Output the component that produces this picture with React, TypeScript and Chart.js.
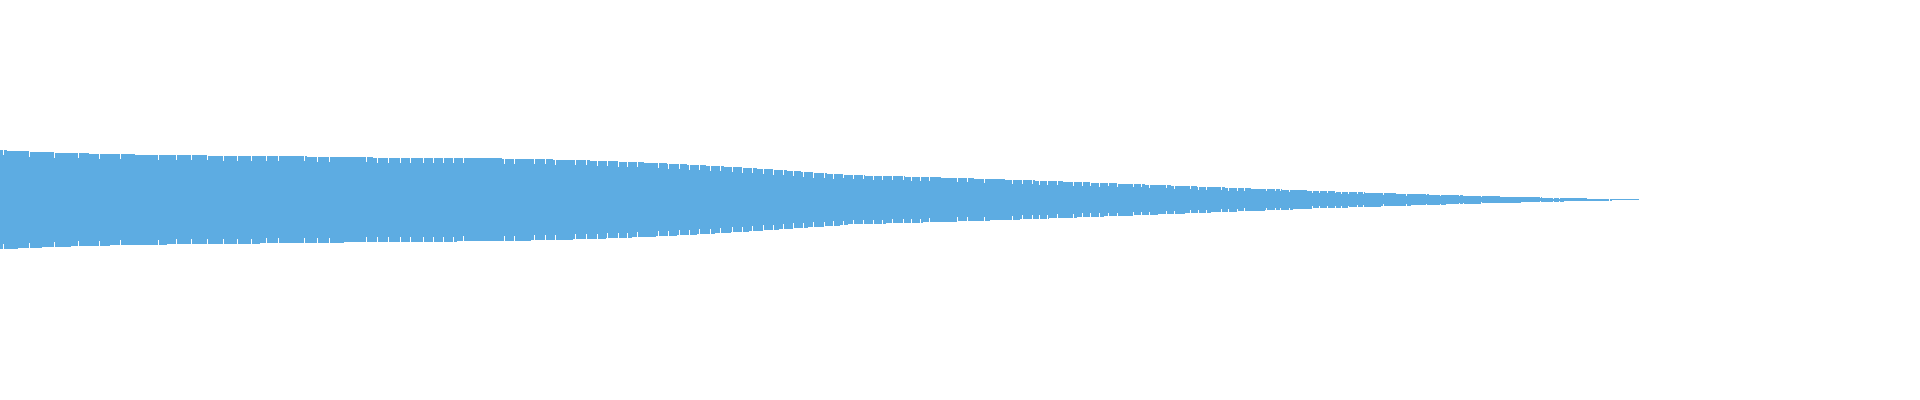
import React, { useEffect, useRef } from "react";
import { Chart, registerables } from "chart.js";

Chart.register(...registerables);

// Upper envelope of the waveform: position where each amplitude level starts
const topX = [
  0, 7, 29, 54, 89, 135, 208, 307, 373, 502, 553, 590, 618, 644, 667, 687, 706, 724, 742, 757,
  773, 787, 801, 813, 827, 844, 865, 905, 941, 974, 1005, 1035, 1063, 1091, 1117, 1145, 1171,
  1197, 1225, 1251, 1282, 1307, 1336, 1365, 1396, 1429, 1464, 1500, 1542, 1587,
];
const topAmp = [
  50, 49, 48, 47, 46, 45, 44, 43, 42, 41, 40, 39, 38, 37, 36, 35, 34, 33, 32, 31, 30, 29, 28,
  27, 26, 25, 24, 23, 22, 21, 20, 19, 18, 17, 16, 15, 14, 13, 12, 11, 10, 9, 8, 7, 6, 5, 4, 3,
  2, 1,
];

// Lower envelope of the waveform (magnitude below the zero line)
const bottomX = [
  0, 18, 42, 71, 110, 167, 260, 344, 457, 531, 573, 606, 632, 656, 677, 697, 715, 731, 749, 763,
  779, 793, 808, 825, 840, 848, 886, 923, 957, 990, 1020, 1049, 1077, 1104, 1133, 1158, 1185,
  1211, 1238, 1265, 1293, 1312, 1349, 1381, 1411, 1446, 1481, 1521, 1564, 1612,
];
const bottomAmp = [
  49, 48, 47, 46, 45, 44, 43, 42, 41, 40, 39, 38, 37, 36, 35, 34, 33, 32, 31, 30, 29, 28, 27,
  26, 25, 24, 23, 22, 21, 20, 19, 18, 17, 16, 15, 14, 13, 12, 11, 10, 9, 8, 7, 6, 5, 4, 3, 2,
  1, 0,
];

// Short dips in the waveform (one sample wide), position and depth
const notchX = [
  3, 29, 54, 78, 99, 120, 158, 176, 191, 207, 223, 237, 251, 266, 278, 304, 317, 329, 366, 377,
  388, 400, 410, 423, 433, 443, 453, 463, 504, 514, 534, 545, 555, 575, 586, 597, 607, 618, 627,
  637, 658, 668, 679, 689, 699, 710, 720, 732, 742, 752, 763, 773, 783, 793, 803, 813, 824, 833,
  843, 853, 863, 873, 882, 892, 903, 911, 920, 929, 957, 967, 984, 1012, 1022, 1032, 1039, 1047,
  1057, 1073, 1082, 1090, 1099, 1108, 1117, 1133, 1141, 1149, 1166, 1174, 1190, 1198, 1206,
  1221, 1228, 1237, 1244, 1266, 1275, 1280, 1289, 1312, 1319, 1327, 1335, 1341, 1348, 1357,
  1363, 1383, 1406, 1426, 1440, 1459, 1463, 1481, 1540, 1553, 1559, 1609,
];
const notchDepth = [
  5, 5, 5, 5, 5, 5, 5, 5, 5, 5, 5, 5, 5, 5, 5, 5, 5, 5, 5, 5,
  5, 5, 5, 5, 5, 5, 5, 5, 5, 5, 5, 5, 5, 5, 5, 5, 5, 5, 5,
  5, 5, 5, 5, 5, 5, 5, 5, 5, 5, 5, 5, 5, 5, 5, 5, 5, 5, 5,
  4, 4, 4, 4, 4, 4, 4, 4, 4, 4, 4, 4, 4, 4, 4, 4, 4, 4,
  4, 4, 4, 4, 4, 3, 3, 3, 3, 3, 3, 3, 3, 3, 3,
  3, 3, 3, 3, 2, 2, 2, 2, 2, 2, 2, 2, 2, 2, 2,
  2, 2, 2, 1, 1, 1, 1, 1, 1, 1, 1, 1,
];

const endX = 1639;
const xMax = 1920;
const yLimit = 200;
const waveColor = "#5DACE2";

function levelAt(xs: number[], amps: number[], x: number): number {
  let v = amps[0];
  for (let i = 0; i < xs.length; i++) {
    if (xs[i] <= x) v = amps[i];
    else break;
  }
  return v;
}

function buildSeries(xs: number[], amps: number[], sign: number) {
  const dips = new Map<number, number>();
  notchX.forEach((x, i) => dips.set(x, notchDepth[i]));
  const marks = new Set<number>(xs);
  notchX.forEach((x) => {
    marks.add(x);
    marks.add(x + 1);
  });
  marks.add(endX);
  const sorted = Array.from(marks)
    .filter((x) => x <= endX)
    .sort((a, b) => a - b);
  return sorted.map((x) => {
    const base = levelAt(xs, amps, x);
    const dip = x < endX && dips.has(x) ? dips.get(x)! : 0;
    return { x, y: sign * Math.max(base - dip, 0) };
  });
}

export default function App() {
  const canvasRef = useRef<HTMLCanvasElement | null>(null);

  useEffect(() => {
    if (!canvasRef.current) return;
    const upper = buildSeries(topX, topAmp, 1);
    const lower = buildSeries(bottomX, bottomAmp, -1);

    const chart = new Chart(canvasRef.current, {
      type: "line",
      data: {
        datasets: [
          {
            label: "upper",
            data: upper,
            stepped: true,
            fill: "origin",
            backgroundColor: waveColor,
            borderColor: "rgba(0,0,0,0)",
            borderWidth: 0,
            pointRadius: 0,
          },
          {
            label: "lower",
            data: lower,
            stepped: true,
            fill: "origin",
            backgroundColor: waveColor,
            borderColor: "rgba(0,0,0,0)",
            borderWidth: 0,
            pointRadius: 0,
          },
        ],
      },
      options: {
        animation: false,
        responsive: true,
        maintainAspectRatio: false,
        layout: { padding: 0 },
        plugins: {
          legend: { display: false },
          tooltip: { enabled: false },
        },
        scales: {
          x: { type: "linear", min: 0, max: xMax, display: false },
          y: { min: -yLimit, max: yLimit, display: false },
        },
      },
    });
    return () => chart.destroy();
  }, []);

  return (
    <div
      style={{
        position: "fixed",
        left: 0,
        top: 0,
        width: 1920,
        height: 400,
        background: "#ffffff",
      }}
    >
      <canvas ref={canvasRef} />
    </div>
  );
}
